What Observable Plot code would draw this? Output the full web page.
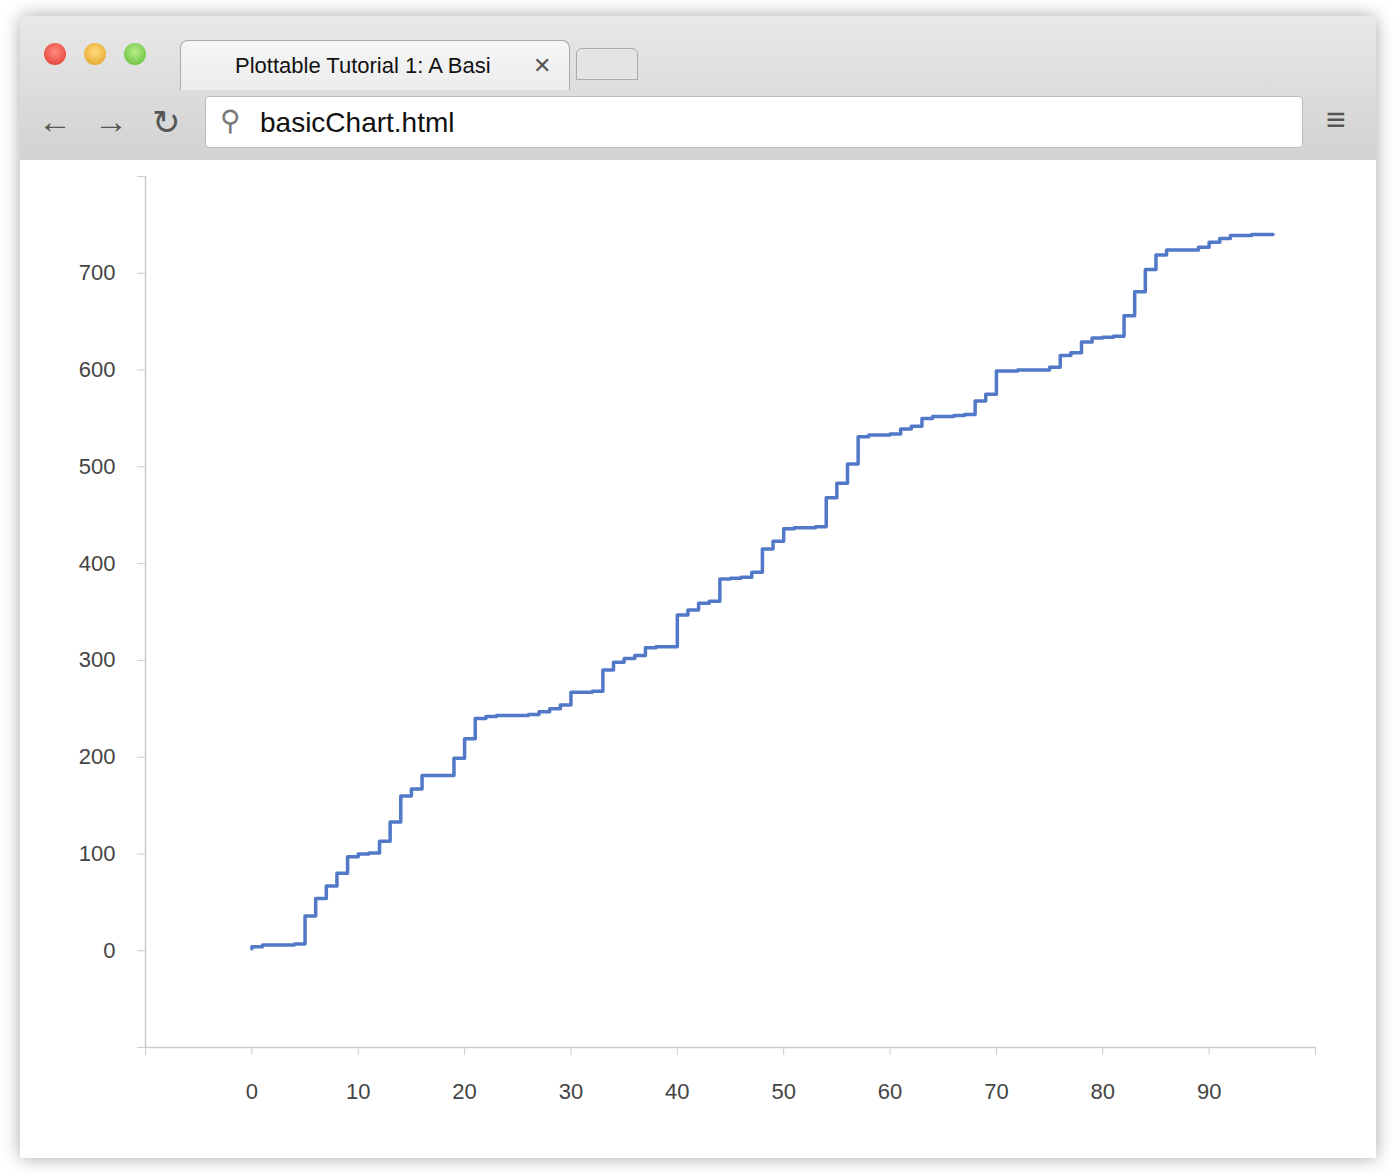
<!DOCTYPE html>
<html><head><meta charset="utf-8">
<script src="https://cdn.jsdelivr.net/npm/d3@7"></script>
<script src="https://cdn.jsdelivr.net/npm/@observablehq/plot@0.6"></script>
<style>
body{margin:0;background:#fff;width:1394px;height:1174px;overflow:hidden;font-family:"Liberation Sans",Helvetica,Arial,sans-serif}
#win{position:absolute;left:20px;top:16px;width:1356px;height:1142px;border-radius:8px 8px 0 0;box-shadow:0 0 18px rgba(0,0,0,.35);background:#fff;overflow:hidden}
#bar{position:absolute;left:0;top:0;width:1356px;height:144px;background:linear-gradient(#e8e8e8,#d2d2d2);border-bottom:1px solid #aaa}
.dot{position:absolute;top:27px;width:22px;height:22px;border-radius:50%}
#tab{position:absolute;left:160px;top:24px;width:390px;height:50px;background:linear-gradient(#f6f6f6,#ececec);border:1px solid #aaa;border-bottom:none;border-radius:8px 8px 0 0;font-size:22px;line-height:50px;padding-left:54px;box-sizing:border-box;color:#111;text-align:left}
#tab2{position:absolute;left:556px;top:32px;width:60px;height:30px;border:1px solid #aaa;border-radius:6px 6px 0 0;background:#e4e4e4}
#url{position:absolute;left:185px;top:80px;width:1098px;height:52px;background:#fff;border:1px solid #bbb;border-radius:4px;font-size:28px;line-height:52px;padding-left:54px;box-sizing:border-box;color:#111}
.nav{position:absolute;top:86px;font-size:34px;color:#555}
#chart{position:absolute;left:0;top:144px}
</style></head><body>
<div id="win">
 <div id="bar">
  <div class="dot" style="left:24px;background:radial-gradient(circle at 50% 40%,#ff8a80,#e0352b)"></div>
  <div class="dot" style="left:64px;background:radial-gradient(circle at 50% 40%,#ffd97a,#e0a020)"></div>
  <div class="dot" style="left:104px;background:radial-gradient(circle at 50% 40%,#b6ee8a,#5cb830)"></div>
  <div id="tab">Plottable Tutorial 1: A Basi<span style="position:absolute;left:352px;color:#555">✕</span></div>
  <div id="tab2"></div>
  <div class="nav" style="left:18px">←</div><div class="nav" style="left:74px">→</div><div class="nav" style="left:132px">↻</div>
  <div id="url"><span style="position:absolute;left:14px;top:-2px;color:#777;font-size:28px">⚲</span>basicChart.html</div>
  <div class="nav" style="left:1306px;top:84px">≡</div>
 </div>
 <div id="chart"></div>
</div>
<script>
const values = [2,4,6,6,6,7,36,54,67,80,97,100,101,113,133,160,167,181,181,181,199,219,240,242,243,243,243,244,247,250,254,267,267,268,290,298,302,305,313,314,314,347,352,359,361,384,385,386,391,415,423,436,437,437,438,468,483,503,531,533,533,534,539,542,550,552,552,553,554,568,575,599,599,600,600,600,603,615,618,629,633,634,635,656,681,704,719,724,724,724,727,732,736,739,739,740,740];
const xTicks = [0,10,20,30,40,50,60,70,80,90];
const yTicks = [0,100,200,300,400,500,600,700];
const data = values.map((v,i)=>({x:i,y:v}));
const grey="#ccc", txt="#444";
const plot = Plot.plot({
  width:1356, height:998,
  marginLeft:125, marginRight:61, marginTop:16, marginBottom:111,
  style:{fontFamily:"'Liberation Sans',Helvetica,Arial,sans-serif",fontSize:"22px",color:txt,background:"#fff"},
  x:{domain:[-10,100]}, y:{domain:[-100,800]},
  marks:[
    Plot.ruleX([-10],{stroke:grey,strokeWidth:1.5}),
    Plot.ruleY([-100],{stroke:grey,strokeWidth:1.5}),
    Plot.axisX([-10,...xTicks,100],{tickSize:8,stroke:grey,tickPadding:28,fill:txt,label:null,tickFormat:d=>xTicks.includes(d)?String(d):""}),
    Plot.axisY([-100,...yTicks,800],{tickSize:8,stroke:grey,tickPadding:22,fill:txt,label:null,tickFormat:d=>yTicks.includes(d)?String(d):""}),
    Plot.line(data,{x:"x",y:"y",curve:"step-before",stroke:"#5279c7",strokeWidth:3.5})
  ]
});
document.getElementById("chart").appendChild(plot);
</script>
</body></html>
